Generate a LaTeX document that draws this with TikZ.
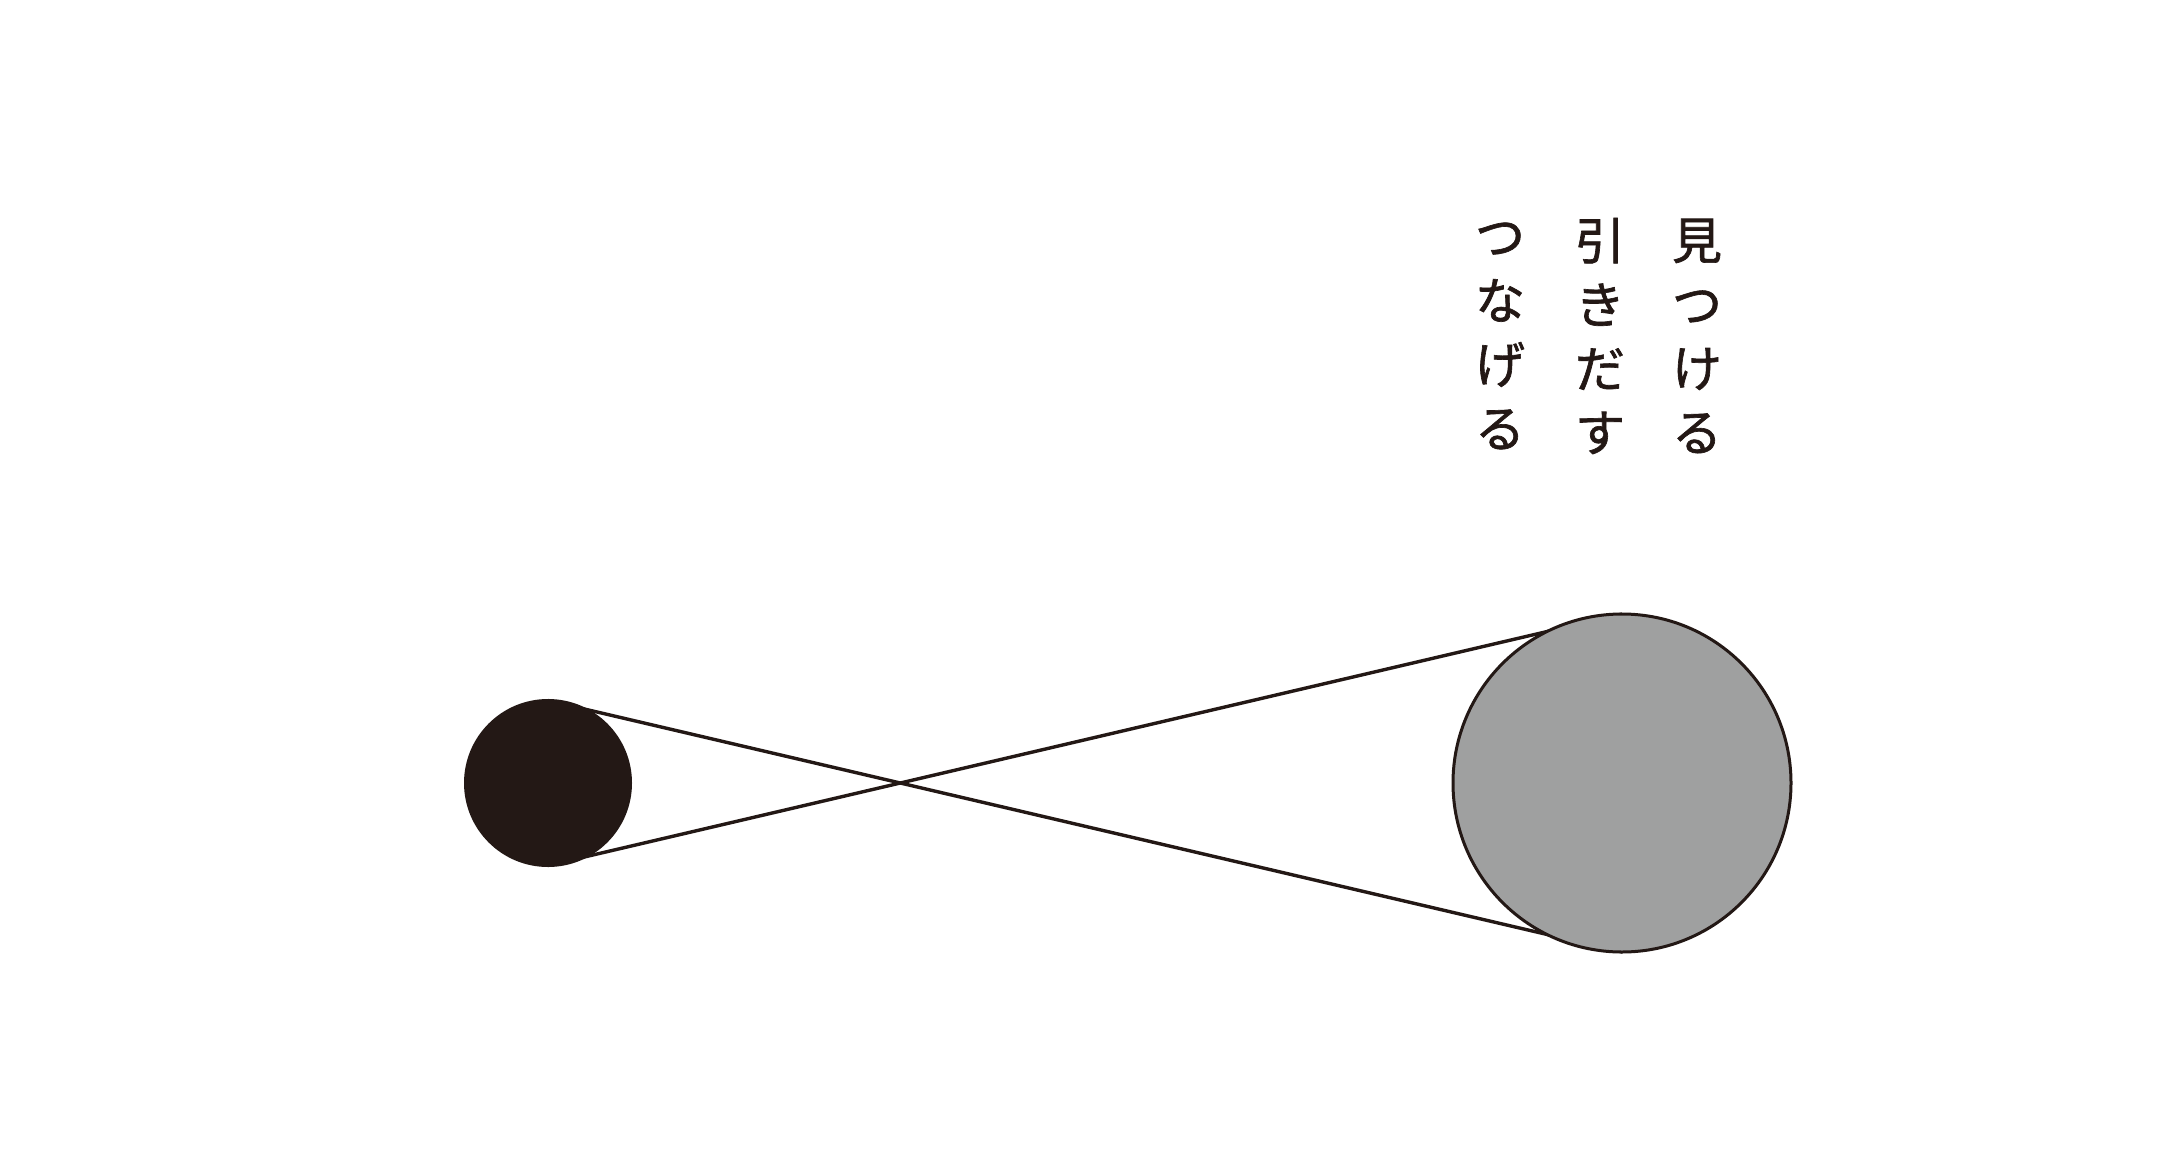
\documentclass[tikz,border=0pt]{standalone}
\usepackage{fontspec}
\usetikzlibrary{backgrounds}
\newfontfamily\jpfont[FakeBold=1.3]{Noto Sans CJK JP}
\definecolor{inkblack}{HTML}{231815}
\definecolor{discgray}{HTML}{9FA0A0}
\begin{document}
\begin{tikzpicture}[x=1pt,y=-1pt,
  disc/.style={circle,inner sep=0pt,outer sep=0pt,draw=inkblack,line width=3pt},
  belt/.style={draw=inkblack,line width=3.4pt},
  vword/.style={inner sep=0pt,align=center,text=inkblack,font=\jpfont\fontsize{50}{64}\selectfont}]
\useasboundingbox (0,0) rectangle (2184,1164);
\node[disc,fill=inkblack,minimum size=165pt] (small) at (548,783) {};
\node[disc,fill=discgray,minimum size=338pt] (big) at (1622,783) {};
\begin{scope}[on background layer]
\fill[white] (0,0) rectangle (2184,1164);
\draw[belt] (small.north) -- (big.south);
\draw[belt] (small.south) -- (big.north);
\end{scope}
\node[vword] (w1) at (1697,336) {見\\つ\\け\\る};
\node[vword] (w2) at (1600,336) {引\\き\\だ\\す};
\node[vword] (w3) at (1500,336) {つ\\な\\げ\\る};
\end{tikzpicture}
\end{document}
